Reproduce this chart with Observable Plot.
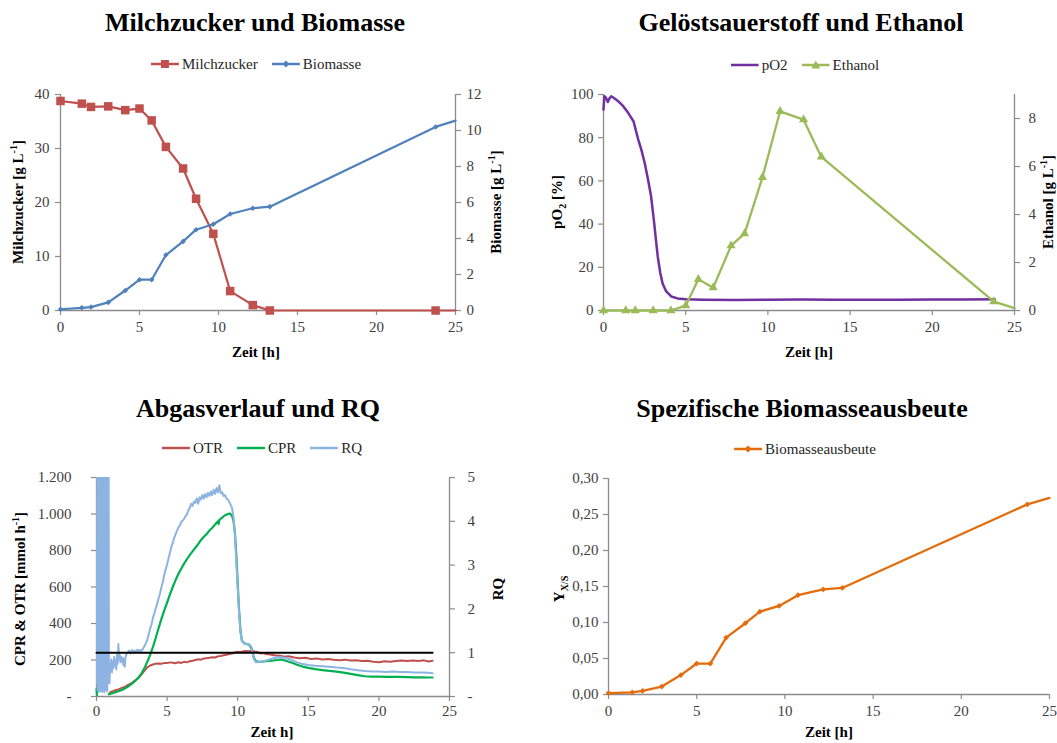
<!DOCTYPE html>
<html><head><meta charset="utf-8">
<script src="https://cdn.jsdelivr.net/npm/d3@7"></script>
<script src="https://cdn.jsdelivr.net/npm/@observablehq/plot@0.6"></script>
<style>
body{margin:0;background:#fff;}
#page{position:relative;width:1057px;height:743px;overflow:hidden;font-family:"Liberation Serif","Times New Roman",serif;color:#000;background:#fff;}
.title{position:absolute;font-weight:bold;font-size:26px;line-height:30px;white-space:nowrap;transform:translateX(-50%);}
.legend{position:absolute;display:flex;align-items:center;font-size:15px;line-height:18px;color:#262626;white-space:nowrap;transform:translate(-50%,-50%);}
.legend .item{display:flex;align-items:center;margin:0 7px;}
.legend svg{margin-right:3px;display:block;}
.ylab{position:absolute;font-weight:bold;font-size:15px;line-height:18px;white-space:nowrap;transform:translate(-50%,-50%) rotate(-90deg);}
.xlab{position:absolute;font-weight:bold;font-size:15px;line-height:18px;white-space:nowrap;transform:translate(-50%,-50%);}
.plot{position:absolute;}
.plot svg{overflow:visible;}
sup,sub{font-size:10px;line-height:0;}
</style>
</head><body>
<div id="page"></div>
<script>
// ---------- DATA ----------
const probeZeit = [0, 1.35, 1.93, 3.02, 4.1, 5.0, 5.77, 6.67, 7.76, 8.58, 9.67, 10.74, 12.17, 13.25, 23.74];
const endZeit = 25;
const milchzucker = [38.8, 38.3, 37.7, 37.8, 37.1, 37.4, 35.2, 30.3, 26.3, 20.7, 14.2, 3.6, 1.0, 0, 0];
const milchzuckerEnde = 0;
const biomasse = [0.07, 0.15, 0.19, 0.45, 1.11, 1.71, 1.71, 3.08, 3.84, 4.49, 4.79, 5.36, 5.68, 5.77, 10.2];
const biomasseEnde = 10.55;
const ethanol = [0, 0, 0, 0, 0, 0.2, 1.3, 0.95, 2.7, 3.2, 5.55, 8.3, 7.95, 6.4, 0.37];
const ethanolEnde = 0.1;
const biomasseausbeute = [0.002, 0.003, 0.005, 0.011, 0.027, 0.043, 0.043, 0.079, 0.099, 0.115, 0.123, 0.138, 0.146, 0.148, 0.264];
const biomasseausbeuteEnde = 0.273;

const pO2 = [[0,93],[0.05,99.2],[0.15,98.5],[0.26,96.5],[0.35,98],[0.47,99.2],[0.7,98],[0.95,96.5],[1.2,94.6],[1.5,91.5],[1.83,87.5],[2.1,79.5],[2.3,74.5],[2.5,68.5],[2.7,61],[2.89,53],[3.0,46],[3.09,40],[3.2,32],[3.3,25],[3.45,17.5],[3.6,12.4],[3.8,9],[4.12,6.5],[4.5,5.6],[5,5.2],[6,5],[8,4.9],[10,5],[12,5.1],[14,5],[16,5],[18,5],[20,5.1],[22,5.1],[23.8,5.2]];

const otr = [[0.9,14],[1.0,25],[1.2,30],[1.4,36],[1.6,40],[1.8,47],[2.0,52],[2.2,62],[2.4,70],[2.6,80],[2.8,92],[3.0,104],[3.2,122],[3.4,142],[3.6,160],[3.8,170],[4.0,175],[4.2,180],[4.4,181],[4.6,179],[4.8,184],[5.0,183],[5.2,187],[5.4,185],[5.6,182],[5.8,188],[6.0,184],[6.2,190],[6.4,187],[6.6,193],[6.8,196],[7.0,200],[7.2,204],[7.4,202],[7.6,208],[7.8,210],[8.0,212],[8.2,215],[8.4,214],[8.6,220],[8.8,222],[9.0,226],[9.2,229],[9.4,233],[9.6,236],[9.8,241],[10.0,245],[10.2,243],[10.4,248],[10.6,250],[10.8,248],[11.0,251],[11.2,247],[11.4,244],[11.6,236],[11.8,238],[12.0,233],[12.3,230],[12.6,226],[13.0,223],[13.3,218],[13.6,221],[14.0,214],[14.4,210],[14.8,212],[15.2,206],[15.6,208],[16.0,203],[16.4,206],[16.8,201],[17.2,199],[17.6,202],[18.0,197],[18.4,199],[18.8,194],[19.2,196],[19.6,191],[20.0,188],[20.4,193],[20.8,190],[21.2,195],[21.6,197],[22.0,194],[22.4,197],[22.8,195],[23.2,198],[23.5,192],[23.8,196]];

const cpr = [[0,40],[0.03,8],[0.05,NaN],[0.87,12],[1.0,15],[1.2,20],[1.4,25],[1.6,30],[1.8,36],[2.0,44],[2.2,53],[2.4,64],[2.6,76],[2.8,90],[3.0,106],[3.2,128],[3.4,156],[3.6,190],[3.8,228],[4.0,272],[4.2,322],[4.4,375],[4.6,425],[4.8,472],[5.0,515],[5.2,560],[5.4,600],[5.6,638],[5.8,672],[6.0,700],[6.2,728],[6.4,752],[6.6,775],[6.8,795],[7.0,815],[7.2,835],[7.4,858],[7.6,875],[7.8,890],[8.0,910],[8.2,925],[8.4,943],[8.6,960],[8.65,945],[8.7,968],[8.9,980],[9.1,993],[9.3,1000],[9.45,1003],[9.6,990],[9.7,963],[9.8,900],[9.9,780],[10.0,620],[10.1,470],[10.2,360],[10.3,305],[10.5,290],[10.8,285],[11.0,260],[11.15,210],[11.3,192],[11.6,190],[12.0,193],[12.4,196],[12.8,200],[13.1,203],[13.4,196],[13.8,186],[14.2,174],[14.6,164],[15.0,157],[15.5,150],[16.0,145],[16.5,140],[17.0,136],[17.5,131],[18.0,124],[18.5,117],[19.0,111],[19.5,109],[20.0,109],[20.5,108],[21.0,107],[21.5,107],[22.0,106],[22.5,105],[23.0,105],[23.5,104],[23.8,104]];

const rq = [[0,3.4],[0.03,0.3],[0.06,6.5],[0.08,0.15],[0.1,8],[0.12,0.2],[0.14,7.2],[0.16,0.1],[0.18,9],[0.2,0.25],[0.22,7.8],[0.24,0.12],[0.26,8.5],[0.28,0.2],[0.3,6.8],[0.32,0.15],[0.34,9.2],[0.36,0.3],[0.38,7.5],[0.4,0.1],[0.42,8.8],[0.44,0.2],[0.46,7],[0.48,0.14],[0.5,9],[0.52,0.25],[0.54,8.2],[0.56,0.1],[0.58,7.6],[0.6,0.2],[0.62,8.9],[0.64,0.3],[0.66,7.1],[0.68,0.15],[0.7,8.4],[0.72,0.22],[0.74,9.1],[0.76,0.12],[0.78,7.7],[0.8,0.3],[0.82,6.9],[0.84,0.4],[0.86,5.6],[0.88,0.35],
[0.92,0.3],[0.96,0.75],[1.0,0.6],[1.05,0.85],[1.1,0.55],[1.15,0.8],[1.2,0.65],[1.25,0.9],[1.3,0.7],[1.35,0.82],[1.4,0.62],[1.45,0.95],[1.5,0.75],[1.55,1.2],[1.6,0.85],[1.65,0.95],[1.7,0.78],[1.75,0.9],[1.8,0.8],[1.85,0.88],[1.9,0.72],[1.95,0.85],[2.0,0.68],[2.05,0.9],[2.1,0.95],[2.2,1.0],[2.3,1.05],[2.4,0.98],[2.5,1.06],[2.6,1.0],[2.7,1.05],[2.8,1.02],[2.9,1.07],[3.0,1.03],[3.1,1.06],[3.2,1.04],[3.3,1.1],[3.4,1.15],[3.5,1.22],[3.6,1.3],[3.7,1.42],[3.8,1.55],[3.9,1.65],[4.0,1.8],[4.1,1.9],[4.2,2.02],[4.3,2.12],[4.4,2.25],[4.5,2.35],[4.6,2.5],[4.7,2.62],[4.8,2.78],[4.9,2.9],[5.0,3.02],[5.1,3.15],[5.2,3.28],[5.3,3.42],[5.4,3.5],[5.5,3.62],[5.6,3.7],[5.7,3.78],[5.8,3.86],[5.9,3.9],[6.0,3.98],[6.1,4.02],[6.2,4.05],[6.3,4.12],[6.4,4.15],[6.5,4.25],[6.6,4.3],[6.7,4.4],[6.8,4.35],[6.9,4.45],[7.0,4.42],[7.1,4.52],[7.2,4.4],[7.3,4.55],[7.4,4.5],[7.5,4.6],[7.6,4.52],[7.7,4.62],[7.8,4.55],[7.9,4.65],[8.0,4.58],[8.1,4.68],[8.2,4.6],[8.3,4.72],[8.4,4.63],[8.5,4.76],[8.6,4.66],[8.7,4.82],[8.8,4.64],[8.9,4.66],[9.0,4.58],[9.1,4.6],[9.2,4.52],[9.3,4.5],[9.4,4.44],[9.5,4.38],[9.6,4.3],[9.7,4.1],[9.8,3.7],[9.9,3.1],[10.0,2.5],[10.1,1.9],[10.2,1.45],[10.3,1.28],[10.4,1.22],[10.6,1.2],[10.8,1.18],[10.95,1.15],[11.05,1.0],[11.15,0.85],[11.3,0.78],[11.5,0.79],[11.8,0.8],[12.2,0.84],[12.6,0.88],[13.0,0.9],[13.4,0.88],[13.8,0.84],[14.2,0.78],[14.6,0.74],[15.0,0.72],[15.5,0.7],[16.0,0.69],[16.5,0.68],[17.0,0.66],[17.5,0.65],[18.0,0.62],[18.5,0.6],[19.0,0.58],[19.5,0.57],[20.0,0.57],[20.5,0.56],[21.0,0.57],[21.5,0.56],[22.0,0.56],[22.5,0.55],[23.0,0.55],[23.5,0.54],[23.8,0.53]];
const rqReferenz = [[0,1],[23.8,1]];

const xTicks = [0, 5, 10, 15, 20, 25];
const p1LeftTicks = [0, 10, 20, 30, 40];
const p1RightTicks = [0, 2, 4, 6, 8, 10, 12];
const p2LeftTicks = [0, 20, 40, 60, 80, 100];
const p2RightTicks = [0, 2, 4, 6, 8];
const p3LeftTicks = [0, 200, 400, 600, 800, 1000, 1200];
const p3RightTicks = [0, 1, 2, 3, 4, 5];
const p4LeftTicks = [0, 0.05, 0.10, 0.15, 0.20, 0.25, 0.30];

// ---------- STYLE ----------
const GRAY = "#8c8c8c", TXT = "#404040";
const RED = "#C0504D", BLUE = "#4F81BD", PURPLE = "#7030A0", LGREEN = "#9BBB59";
const OTRC = "#C0504D", CPRC = "#00B050", RQC = "#8DB3E2", ORANGE = "#E46C0A";

const page = document.getElementById("page");
function add(html){ page.insertAdjacentHTML("beforeend", html); }
function place(svg, left, top){ const d=document.createElement("div"); d.className="plot"; d.style.left=left+"px"; d.style.top=top+"px"; d.appendChild(svg); page.appendChild(d); }
function swatch(color, shape){
  let m = "";
  if (shape==="square") m = `<rect x="10" y="2" width="8" height="8" fill="${color}"/>`;
  if (shape==="diamond") m = `<path d="M14 2.5 L17.5 6 L14 9.5 L10.5 6Z" fill="${color}"/>`;
  if (shape==="triangle") m = `<path d="M14 1.5 L18.5 9.5 L9.5 9.5Z" fill="${color}"/>`;
  return `<svg width="28" height="12"><line x1="0" y1="6" x2="28" y2="6" stroke="${color}" stroke-width="2.5"/>${m}</svg>`;
}
function legend(cx, cy, items){
  add(`<div class="legend" style="left:${cx}px;top:${cy}px">` + items.map(([c,s,t])=>`<div class="item">${swatch(c,s)}<span>${t}</span></div>`).join("") + `</div>`);
}
const baseStyle = {fontFamily:"Liberation Serif, Times New Roman, serif", fontSize:"15px", color:TXT, background:"none"};
const ax = (o) => Object.assign({tickSize:5, stroke:GRAY, fill:TXT, label:null, strokeWidth:1.2}, o);
const rows = (times, vals, endT, endV) => times.map((t,i)=>({t, v: vals[i]})).concat(endT==null?[]:[{t:endT, v:endV}]);
const pairs = (arr) => arr.map(([t,v])=>({t,v}));

// ---------- PANEL 1 ----------
add(`<div class="title" style="left:255px;top:8px">Milchzucker und Biomasse</div>`);
legend(256, 64, [[RED,"square","Milchzucker"],[BLUE,"diamond","Biomasse"]]);
{
  const f = 40/12;
  const mz = rows(probeZeit, milchzucker, endZeit, milchzuckerEnde);
  const bm = rows(probeZeit, biomasse, endZeit, biomasseEnde);
  const svg = Plot.plot({
    width:528, height:280, marginLeft:60, marginRight:73, marginTop:14, marginBottom:50,
    x:{domain:[0,25]}, y:{domain:[0,40]}, style: baseStyle,
    marks:[
      Plot.axisX(xTicks, ax({tickPadding:6})),
      Plot.axisY(p1LeftTicks, ax({tickPadding:6})),
      Plot.axisY(p1RightTicks.map(v=>v*f), ax({anchor:"right", tickPadding:6, tickFormat:v=>String(Math.round(v/f))})),
      Plot.ruleX([0,25], {stroke:GRAY, strokeWidth:1.3}),
      Plot.ruleY([0], {stroke:GRAY, strokeWidth:1.3}),
      Plot.line(mz, {x:"t", y:"v", stroke:RED, strokeWidth:2.2}),
      Plot.line(bm, {x:"t", y:d=>d.v*f, stroke:BLUE, strokeWidth:2.2}),
      Plot.dot(mz.slice(0,probeZeit.length), {x:"t", y:"v", symbol:"square", r:4.8, fill:RED, stroke:"none"}),
      Plot.dot(bm.slice(0,probeZeit.length), {x:"t", y:d=>d.v*f, symbol:"diamond2", r:2.5, fill:BLUE, stroke:"none"})
    ]
  });
  place(svg, 0, 80);
  add(`<div class="ylab" style="left:18px;top:202px">Milchzucker [g L<sup>-1</sup>]</div>`);
  add(`<div class="ylab" style="left:496px;top:202px">Biomasse [g L<sup>-1</sup>]</div>`);
  add(`<div class="xlab" style="left:256px;top:352px">Zeit [h]</div>`);
}

// ---------- PANEL 2 ----------
add(`<div class="title" style="left:801px;top:8px">Gelöstsauerstoff und Ethanol</div>`);
legend(805, 65, [[PURPLE,null,"pO2"],[LGREEN,"triangle","Ethanol"]]);
{
  const f = 100/9;
  const et = rows(probeZeit, ethanol, endZeit, ethanolEnde);
  const svg = Plot.plot({
    width:529, height:280, marginLeft:75, marginRight:43, marginTop:14, marginBottom:50,
    x:{domain:[0,25]}, y:{domain:[0,100]}, style: baseStyle,
    marks:[
      Plot.axisX(xTicks, ax({tickPadding:6})),
      Plot.axisY(p2LeftTicks, ax({tickPadding:5})),
      Plot.axisY(p2RightTicks.map(v=>v*f), ax({anchor:"right", tickPadding:9, tickFormat:v=>String(Math.round(v/f))})),
      Plot.ruleX([0,25], {stroke:GRAY, strokeWidth:1.3}),
      Plot.ruleY([0], {stroke:GRAY, strokeWidth:1.3}),
      Plot.line(pairs(pO2), {x:"t", y:"v", stroke:PURPLE, strokeWidth:2.5}),
      Plot.line(et, {x:"t", y:d=>d.v*f, stroke:LGREEN, strokeWidth:2.3}),
      Plot.dot(et.slice(0,probeZeit.length), {x:"t", y:d=>d.v*f, symbol:"triangle", r:3.4, fill:LGREEN, stroke:"none"})
    ]
  });
  place(svg, 528, 80);
  add(`<div class="ylab" style="left:557px;top:202px">pO<sub>2</sub> [%]</div>`);
  add(`<div class="ylab" style="left:1048px;top:202px">Ethanol [g L<sup>-1</sup>]</div>`);
  add(`<div class="xlab" style="left:809px;top:352px">Zeit [h]</div>`);
}

// ---------- PANEL 3 ----------
add(`<div class="title" style="left:258px;top:394px">Abgasverlauf und RQ</div>`);
legend(262, 448, [[OTRC,null,"OTR"],[CPRC,null,"CPR"],[RQC,null,"RQ"]]);
{
  const f = 1200/5;
  const de = (v) => v===0 ? "-" : d3.format(",")(v).replace(/,/g,".");
  const svg = Plot.plot({
    width:528, height:283, marginLeft:96, marginRight:79, marginTop:17, marginBottom:47,
    x:{domain:[0,25]}, y:{domain:[0,1200]}, style: baseStyle,
    marks:[
      Plot.axisX(xTicks, ax({tickPadding:4})),
      Plot.axisY(p3LeftTicks, ax({tickPadding:20, tickFormat:de})),
      Plot.axisY(p3RightTicks.map(v=>v*f), ax({anchor:"right", tickPadding:13, tickFormat:v=>v===0?"-":String(Math.round(v/f))})),
      Plot.ruleX([0,25], {stroke:GRAY, strokeWidth:1.3}),
      Plot.ruleY([0], {stroke:GRAY, strokeWidth:1.3}),
      Plot.line(pairs(otr), {x:"t", y:"v", stroke:OTRC, strokeWidth:2}),
      Plot.line(pairs(cpr), {x:"t", y:"v", stroke:CPRC, strokeWidth:2.2}),
      Plot.line(pairs(rq), {x:"t", y:d=>d.v*f, stroke:RQC, strokeWidth:2, clip:true}),
      Plot.line(pairs(rqReferenz), {x:"t", y:d=>d.v*f, stroke:"#000", strokeWidth:2})
    ]
  });
  place(svg, 0, 460);
  add(`<div class="ylab" style="left:20px;top:589px">CPR &amp; OTR [mmol h<sup>-1</sup>]</div>`);
  add(`<div class="ylab" style="left:498px;top:589px">RQ</div>`);
  add(`<div class="xlab" style="left:272px;top:732px">Zeit h]</div>`);
}

// ---------- PANEL 4 ----------
add(`<div class="title" style="left:802px;top:394px">Spezifische Biomasseausbeute</div>`);
legend(805, 449, [[ORANGE,"diamond","Biomasseausbeute"]]);
{
  const ya = rows(probeZeit, biomasseausbeute, endZeit, biomasseausbeuteEnde);
  const svg = Plot.plot({
    width:529, height:283, marginLeft:80, marginRight:8, marginTop:18, marginBottom:49,
    x:{domain:[0,25]}, y:{domain:[0,0.30]}, style: baseStyle,
    marks:[
      Plot.axisX(xTicks, ax({tickPadding:6})),
      Plot.axisY(p4LeftTicks, ax({tickPadding:5, tickFormat:v=>v.toFixed(2).replace(".",",")})),
      Plot.ruleX([0], {stroke:GRAY, strokeWidth:1.3}),
      Plot.ruleY([0], {stroke:GRAY, strokeWidth:1.3}),
      Plot.line(ya, {x:"t", y:"v", stroke:ORANGE, strokeWidth:2.3}),
      Plot.dot(ya.slice(0,probeZeit.length), {x:"t", y:"v", symbol:"diamond2", r:2.6, fill:ORANGE, stroke:"none"})
    ]
  });
  place(svg, 528, 460);
  add(`<div class="ylab" style="left:559px;top:589px">Y<sub>X/S</sub></div>`);
  add(`<div class="xlab" style="left:829px;top:732px">Zeit [h]</div>`);
}
</script>
</body></html>
